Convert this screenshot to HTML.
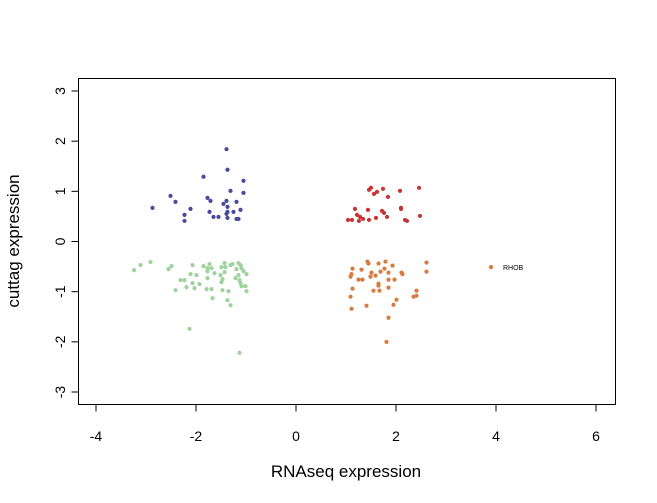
<!DOCTYPE html>
<html><head><meta charset="utf-8"><style>
body{margin:0;background:#fff}
svg{display:block;font-family:"Liberation Sans",Arial,sans-serif}
</style></head><body>
<svg id="chart" width="657" height="503" viewBox="0 0 657 503">
<rect x="78.5" y="78.5" width="537" height="326" fill="none" stroke="#000" stroke-width="1"/>
<g id="xaxis"></g>
<g id="yaxis"></g>
<g id="points"></g>
<text x="346" y="477" font-size="17" text-anchor="middle">RNAseq expression</text>
<text transform="translate(19,241) rotate(-90)" font-size="17" text-anchor="middle">cuttag expression</text>
</svg>
<script>
const xTicks=[-4,-2,0,2,4,6];
const yTicks=[-3,-2,-1,0,1,2,3];
const blueX=[-1.39,-1.37,-1.85,-1.05,-1.31,-1.05,-2.51,-2.41,-1.77,-1.71,-1.39,-1.45,-1.19,-2.87,-2.11,-1.37,-1.11,-1.73,-1.25,-1.37,-1.39,-2.23,-1.65,-1.55,-1.37,-1.19,-1.15,-2.23];
const blueY=[1.84,1.43,1.29,1.21,1.01,0.97,0.91,0.79,0.87,0.81,0.81,0.75,0.79,0.67,0.65,0.69,0.63,0.59,0.59,0.59,0.55,0.53,0.49,0.49,0.47,0.45,0.45,0.41];
const greenX=[-3.24,-3.11,-2.91,-2.55,-2.49,-2.07,-1.85,-1.73,-1.77,-1.69,-1.77,-1.63,-1.49,-1.43,-1.41,-1.31,-1.27,-1.43,-1.15,-1.11,-1.19,-1.09,-1.05,-0.99,-2.11,-1.99,-1.51,-1.15,-1.21,-2.31,-2.23,-1.77,-1.47,-1.49,-1.13,-2.07,-1.93,-1.11,-1.09,-1.01,-2.19,-2.03,-1.79,-1.69,-2.41,-1.47,-1.35,-0.99,-1.67,-1.37,-1.31,-2.13,-1.13];
const greenY=[-0.57,-0.47,-0.41,-0.55,-0.49,-0.47,-0.49,-0.45,-0.53,-0.53,-0.59,-0.63,-0.51,-0.43,-0.51,-0.47,-0.45,-0.61,-0.43,-0.47,-0.55,-0.53,-0.59,-0.65,-0.65,-0.67,-0.67,-0.67,-0.73,-0.77,-0.77,-0.73,-0.75,-0.81,-0.77,-0.83,-0.85,-0.83,-0.89,-0.89,-0.91,-0.93,-0.95,-0.95,-0.97,-0.97,-0.99,-0.99,-1.13,-1.17,-1.27,-1.74,-2.22];
const redX=[1.50,1.46,1.74,2.08,2.46,1.62,1.56,1.84,1.18,1.44,2.10,2.10,1.72,1.76,1.22,1.28,1.34,1.60,1.82,2.48,1.04,1.12,1.26,1.46,2.18,2.22];
const redY=[1.07,1.03,1.05,1.01,1.07,0.99,0.95,0.89,0.65,0.63,0.67,0.65,0.61,0.57,0.53,0.49,0.45,0.47,0.49,0.51,0.43,0.43,0.41,0.43,0.43,0.41];
const orangeX=[1.43,1.45,1.65,1.79,1.93,2.61,1.13,1.31,1.77,1.69,1.51,1.85,2.11,2.13,2.61,1.11,1.09,1.49,1.59,1.25,1.33,1.85,1.97,1.65,1.65,1.85,1.13,1.55,1.67,2.41,2.41,2.35,1.09,2.01,1.95,1.41,1.11,1.85,1.81,3.90];
const orangeY=[-0.40,-0.44,-0.44,-0.40,-0.48,-0.42,-0.54,-0.56,-0.54,-0.60,-0.62,-0.62,-0.62,-0.65,-0.60,-0.65,-0.70,-0.70,-0.68,-0.76,-0.76,-0.76,-0.76,-0.84,-0.88,-0.92,-0.94,-0.98,-0.98,-0.98,-1.08,-1.10,-1.10,-1.16,-1.26,-1.28,-1.34,-1.52,-2.00,-0.51];
const labelX=[3.90];const labelY=[-0.51];const labelText=["RHOB"];

const NS="http://www.w3.org/2000/svg";
const sx=v=>296+v*50;
const sy=v=>241.5-v*50.17;
const xa=document.getElementById('xaxis'),ya=document.getElementById('yaxis'),pg=document.getElementById('points');
function mk(tag,attrs,parent){const e=document.createElementNS(NS,tag);for(const k in attrs)e.setAttribute(k,attrs[k]);parent.appendChild(e);return e;}
mk('line',{x1:sx(-4),x2:sx(6),y1:404.5,y2:404.5,stroke:'#000'},xa);
xTicks.forEach(t=>{
  const l=mk('line',{x1:sx(t),x2:sx(t),y1:404.5,y2:411.5,stroke:'#000'},xa);
  
  
  const tx=mk('text',{x:sx(t),y:441,'font-size':14,'text-anchor':'middle'},xa);
  tx.textContent=t;
  
  
});
mk('line',{x1:78.5,x2:78.5,y1:sy(-3),y2:sy(3),stroke:'#000'},ya);
yTicks.forEach(t=>{
  const l=mk('line',{x1:71.5,x2:78.5,y1:sy(t),y2:sy(t),stroke:'#000'},ya);
  
  
  const tx=mk('text',{transform:`translate(65,${sy(t)}) rotate(-90)`,'font-size':14,'text-anchor':'middle'},ya);
  tx.textContent=t;
  
  
});
function series(X,Y,col,name){
  X.forEach((x,i)=>{
    const c=mk('circle',{cx:sx(x),cy:sy(Y[i]),r:2.1,fill:col},pg);
    
    
  });
}
series(blueX,blueY,'#4a4a9c','point-blue');
series(greenX,greenY,'#9ed39e','point-green');
series(redX,redY,'#c93434','point-red');
series(orangeX,orangeY,'#d97b40','point-orange');
labelX.forEach((x,i)=>{
  const t=mk('text',{x:sx(x)+12,y:sy(labelY[i])+3,'font-size':7},pg);
  t.textContent=labelText[i];
  
  
});
</script>
</body></html>
